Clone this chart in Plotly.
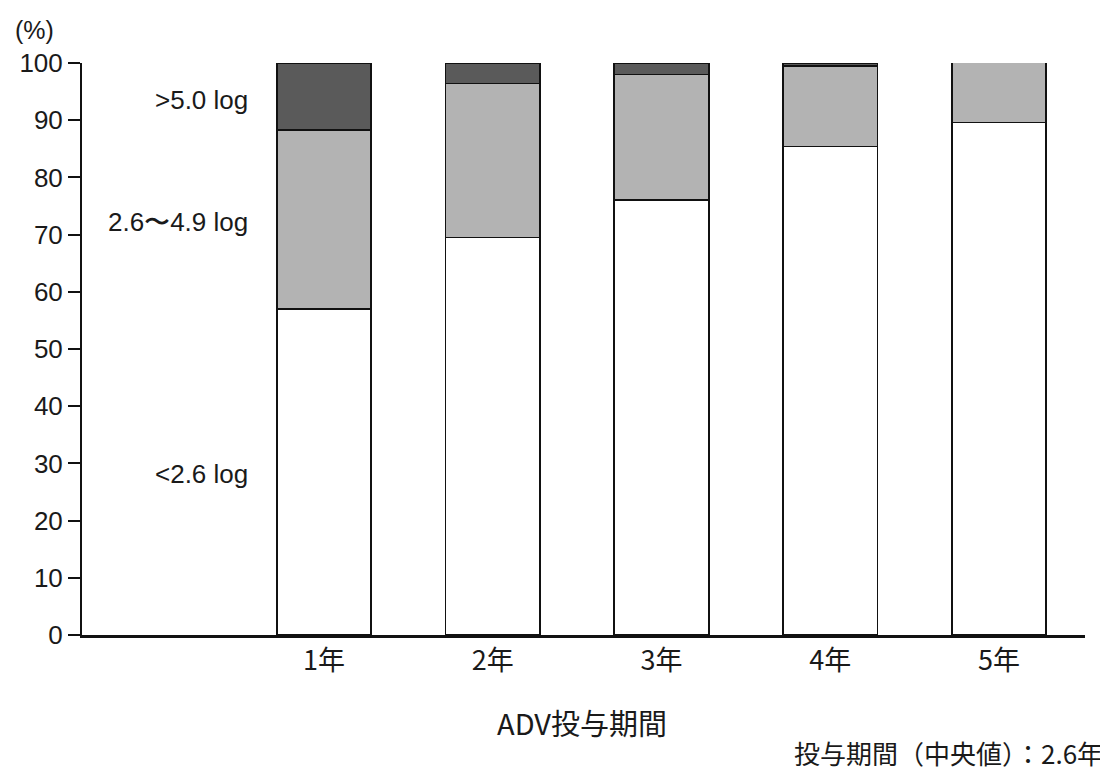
import plotly.graph_objects as go

categories = ["1年", "2年", "3年", "4年", "5年"]
positions = [1, 2, 3, 4, 5]
low = [57.0, 69.5, 76.0, 85.4, 89.6]      # <2.6 log
mid = [31.3, 26.9, 22.0, 14.1, 10.6]      # 2.6〜4.9 log
high = [11.7, 3.6, 2.0, 0.5, 0.0]         # >5.0 log
series_names = ["<2.6 log", "2.6〜4.9 log", ">5.0 log"]
yticks = [0, 10, 20, 30, 40, 50, 60, 70, 80, 90, 100]

LAT = "Liberation Sans, Arial, sans-serif"
JP = "Noto Sans CJK JP, sans-serif"
TXT = "#1a1a1a"

fig = go.Figure()
fills = ["#ffffff", "#b3b3b3", "#5a5a5a"]
for name, vals, col in zip(series_names, [low, mid, high], fills):
    fig.add_trace(go.Bar(
        x=positions, y=vals, name=name, width=0.56,
        marker=dict(color=col, line=dict(color="#111111", width=1.8)),
        showlegend=False, cliponaxis=False,
    ))

fig.update_layout(
    barmode="stack",
    width=1100, height=763,
    margin=dict(l=74, r=23, t=55, b=136),
    plot_bgcolor="white", paper_bgcolor="white",
    font=dict(family=LAT, size=26, color=TXT),
    xaxis=dict(
        range=[-0.434, 5.51], tickvals=positions, ticktext=categories,
        showline=True, linecolor="#111111", linewidth=2.5,
        ticks="", showgrid=False, zeroline=False,
        tickfont=dict(family=JP, size=27, color=TXT),
    ),
    yaxis=dict(
        range=[0, 100], tickvals=yticks,
        showline=True, linecolor="#111111", linewidth=2,
        ticks="outside", ticklen=12, tickwidth=1.5, tickcolor="#111111",
        showgrid=False, zeroline=False,
        tickfont=dict(family=LAT, size=26, color=TXT),
    ),
)

# Series labels inside the plot area
label_y = [28.1, 72.2, 93.5]
for name, yv in zip(series_names, label_y):
    fig.add_annotation(x=0.56, y=yv, xref="x", yref="y", text=name,
                       showarrow=False, xanchor="right", yanchor="middle",
                       font=dict(family=LAT, size=26, color=TXT))

fig.add_annotation(x=-0.047, y=1.058, xref="paper", yref="paper", text="(%)",
                   showarrow=False, xanchor="center", yanchor="middle",
                   font=dict(family=LAT, size=25, color=TXT))

fig.add_annotation(x=0.4985, y=-0.152, xref="paper", yref="paper", text="ADV投与期間",
                   showarrow=False, xanchor="center", yanchor="middle",
                   font=dict(family=JP, size=29, color=TXT))
fig.add_annotation(x=1.02, y=-0.205, xref="paper", yref="paper",
                   text="投与期間（中央値）：2.6年",
                   showarrow=False, xanchor="right", yanchor="middle",
                   font=dict(family=JP, size=26, color=TXT))

fig.write_html("out.html")
